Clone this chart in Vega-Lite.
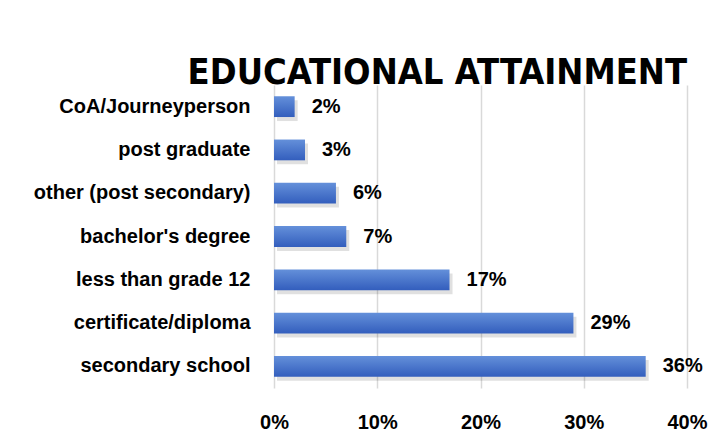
{
  "$schema": "https://vega.github.io/schema/vega-lite/v6.json",
  "width": 413,
  "height": 303,
  "autosize": {"type": "none"},
  "padding": {"left": 274, "top": 85, "right": 38, "bottom": 55},
  "background": "white",
  "title": {
    "text": "EDUCATIONAL ATTAINMENT",
    "anchor": "end",
    "frame": "group",
    "font": "DejaVu Sans Condensed, sans-serif",
    "fontSize": 36,
    "fontWeight": "bold",
    "color": "#000000",
    "baseline": "alphabetic",
    "offset": 1,
    "dy": 36
  },
  "data": {
    "values": [
      {"category": "CoA/Journeyperson", "share": 0.02},
      {"category": "post graduate", "share": 0.03},
      {"category": "other (post secondary)", "share": 0.06},
      {"category": "bachelor's degree", "share": 0.07},
      {"category": "less than grade 12", "share": 0.17},
      {"category": "certificate/diploma", "share": 0.29},
      {"category": "secondary school", "share": 0.36}
    ]
  },
  "encoding": {
    "y": {
      "field": "category",
      "type": "nominal",
      "sort": null,
      "scale": {"paddingInner": 0.52, "paddingOuter": 0.26},
      "axis": {
        "title": null,
        "ticks": false,
        "domain": false,
        "labelPadding": 24,
        "labelLimit": 400,
        "labelFont": "Liberation Sans, sans-serif",
        "labelFontSize": 20,
        "labelFontWeight": "bold",
        "labelColor": "#000000"
      }
    },
    "x": {
      "field": "share",
      "type": "quantitative",
      "scale": {"domain": [0, 0.4]},
      "axis": {
        "title": null,
        "values": [0, 0.1, 0.2, 0.3, 0.4],
        "format": ".0%",
        "ticks": false,
        "domain": false,
        "grid": true,
        "gridColor": "#d9d9d9",
        "gridWidth": 1.5,
        "labelPadding": 24,
        "labelFont": "Liberation Sans, sans-serif",
        "labelFontSize": 20,
        "labelFontWeight": "bold",
        "labelColor": "#000000",
        "labelFlush": false
      }
    }
  },
  "layer": [
    {
      "mark": {"type": "bar", "color": "#000000", "opacity": 0.12, "xOffset": 3, "yOffset": 4}
    },
    {
      "mark": {
        "type": "bar",
        "color": {
          "gradient": "linear",
          "x1": 0, "y1": 0, "x2": 0, "y2": 1,
          "stops": [
            {"offset": 0, "color": "#6490da"},
            {"offset": 1, "color": "#335ebd"}
          ]
        }
      }
    },
    {
      "mark": {
        "type": "text",
        "align": "left",
        "baseline": "middle",
        "dx": 17,
        "font": "Liberation Sans, sans-serif",
        "fontSize": 20,
        "fontWeight": "bold",
        "color": "#000000"
      },
      "encoding": {
        "text": {"field": "share", "type": "quantitative", "format": ".0%"}
      }
    }
  ],
  "config": {"view": {"stroke": null}}
}
